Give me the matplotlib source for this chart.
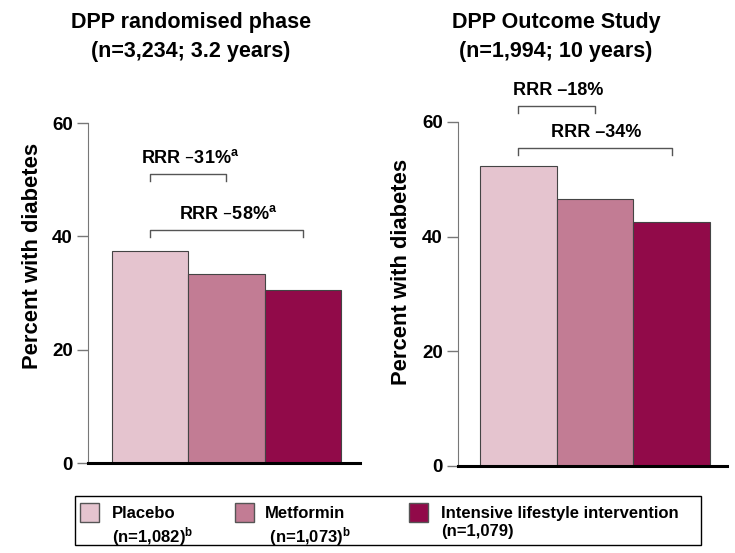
import matplotlib.pyplot as plt
from matplotlib.patches import Rectangle

plt.rcParams['font.family'] = ['Liberation Sans', 'DejaVu Sans']
plt.rcParams['font.weight'] = 'bold'
plt.rcParams['mathtext.default'] = 'regular'

groups = ['Placebo', 'Metformin', 'Intensive lifestyle intervention']
group_n = ['(n=1,082)$^{b}$', ' (n=1,073)$^{b}$', '(n=1,079)']
colors = ['#E5C4CF', '#C27C94', '#910A49']

dpp_values = [37.5, 33.3, 30.5]
dppos_values = [52.3, 46.6, 42.6]

titles = ['DPP randomised phase\n(n=3,234; 3.2 years)', 'DPP Outcome Study\n(n=1,994; 10 years)']
# brackets: (from bar, to bar, y of bracket, label)
dpp_brackets = [(0, 1, 51.0, 'RRR \u201331%$^{a}$'), (0, 2, 41.1, 'RRR \u201358%$^{a}$')]
dppos_brackets = [(0, 1, 62.8, 'RRR \u201318%'), (0, 2, 55.5, 'RRR \u201334%')]

fig = plt.figure(figsize=(7.35, 5.53), dpi=100)
ax1 = fig.add_axes([88/735, 90/553, 272/735, 340/553])
ax2 = fig.add_axes([458/735, 87/553, 269/735, 344/553])

panels = [(ax1, dpp_values, dpp_brackets, (-0.81, 2.745), (-0.165, 0.61)),
          (ax2, dppos_values, dppos_brackets, (-0.79, 2.725), (-0.171, 0.565))]

for ax, vals, brackets, xlim, label_xy in panels:
    ax.bar(range(3), vals, width=1.0, color=colors, edgecolor='#444444', linewidth=0.8, zorder=2)
    ax.set_ylim(0, 60)
    ax.set_xlim(*xlim)
    ax.set_yticks([0, 20, 40, 60])
    ax.set_xticks([])
    ax.tick_params(axis='y', length=8, width=1, color='#777777', labelsize=13.5, pad=3)
    for lab in ax.get_yticklabels():
        lab.set_fontweight('bold')
    ax.spines['top'].set_visible(False)
    ax.spines['right'].set_visible(False)
    ax.spines['left'].set_color('#777777')
    ax.spines['bottom'].set_linewidth(2.2)
    ax.spines['bottom'].set_color('black')
    ax.spines['bottom'].set_zorder(3)
    ax.set_ylabel('Percent with diabetes', fontsize=15.8, fontweight='bold')
    ax.yaxis.set_label_coords(*label_xy)
    for a, b, y, txt in brackets:
        ax.plot([a, a, b, b], [y - 1.3, y, y, y - 1.3], color='#555555', lw=1, clip_on=False)
        ax.text((a + b) / 2 + 0.02, y + 1.2, txt, ha='center', va='bottom', fontsize=13,
                fontweight='bold', clip_on=False)

fig.text(191/735, 1 - 37/553, titles[0], ha='center', va='center', fontsize=15.5,
         fontweight='bold', linespacing=1.5)
fig.text(556/735, 1 - 37/553, titles[1], ha='center', va='center', fontsize=15.5,
         fontweight='bold', linespacing=1.5)

# legend drawn by hand so the two-line labels sit like the original
W, H = 735, 553
fig.add_artist(Rectangle((75/W, 1 - 545/H), 626/W, 49/H, transform=fig.transFigure,
                         facecolor='white', edgecolor='black', linewidth=1.0))
patch_x = [80, 235, 409]
text_x = [112, 265, 441]
for px, tx, g, n, c in zip(patch_x, text_x, groups, group_n, colors):
    fig.add_artist(Rectangle((px/W, 1 - 522/H), 19/W, 19/H, transform=fig.transFigure,
                             facecolor=c, edgecolor='#555555', linewidth=1.0))
    fig.text(tx/W, 1 - 506/H, g + '\n' + n, ha='left', va='top', fontsize=12,
             fontweight='bold', linespacing=1.25)

fig.savefig('out.png', dpi=100)
